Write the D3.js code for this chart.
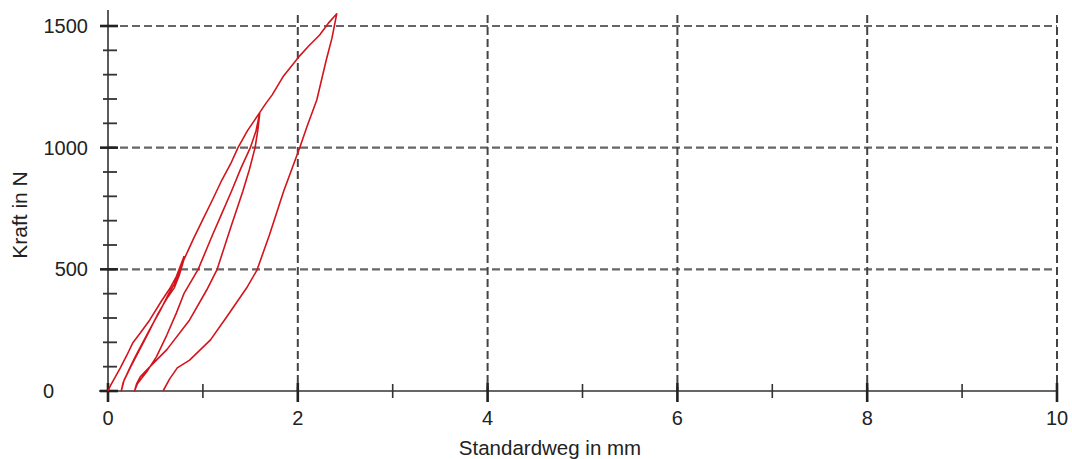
<!DOCTYPE html>
<html>
<head>
<meta charset="utf-8">
<script src="https://cdn.jsdelivr.net/npm/d3@7"></script>
<style>
  body { margin: 0; background: #fff; }
  text { font-family: "Liberation Sans", Arial, sans-serif; fill: #222; }
</style>
</head>
<body>
<script>
"use strict";
// Kraft-Weg Messung: drei Be- und Entlastungszyklen, [Weg mm, Kraft N]
var load1 = [[0,0],[0.03,25],[0.07,53],[0.13,95],[0.20,148],[0.26,197],[0.34,238],[0.44,292],[0.57,374],[0.65,420],[0.72,470],[0.80,552]];
var unload1 = [[0.80,552],[0.76,495],[0.70,440],[0.64,400],[0.55,330],[0.45,260],[0.36,195],[0.28,135],[0.23,95],[0.20,70],[0.17,45],[0.14,0]];
var load2 = [[0.14,0],[0.16,35],[0.19,60],[0.24,100],[0.32,160],[0.42,235],[0.53,320],[0.62,380],[0.70,425],[0.75,475],[0.80,540],[0.90,625],[1.00,705],[1.10,785],[1.20,867],[1.30,940],[1.37,1000],[1.47,1070],[1.60,1145]];
var unload2 = [[1.60,1145],[1.58,1075],[1.55,1000],[1.49,910],[1.42,820],[1.30,680],[1.15,500],[1.04,415],[0.86,292],[0.62,170],[0.44,99],[0.34,58],[0.30,28],[0.28,0]];
var load3 = [[0.28,0],[0.31,30],[0.35,50],[0.41,80],[0.51,140],[0.62,230],[0.72,320],[0.80,400],[0.95,500],[1.10,640],[1.20,730],[1.30,820],[1.40,915],[1.50,1000],[1.56,1070],[1.60,1145],[1.66,1180],[1.73,1217],[1.85,1295],[2.01,1373],[2.12,1420],[2.23,1463],[2.33,1515],[2.41,1550]];
var unload3 = [[2.41,1550],[2.36,1450],[2.30,1360],[2.20,1196],[2.10,1090],[2.02,1000],[1.85,820],[1.70,640],[1.57,497],[1.46,423],[1.25,304],[1.08,210],[0.86,127],[0.73,95],[0.65,50],[0.58,0]];

var xMajor = [0, 2, 4, 6, 8, 10],
    xMinor = [1, 3, 5, 7, 9],
    yMajor = [0, 500, 1000, 1500],
    yMinor = [100, 200, 300, 400, 600, 700, 800, 900, 1100, 1200, 1300, 1400];

var width = 1072, height = 459;
var svg = d3.select("body").append("svg")
    .attr("width", width)
    .attr("height", height);

var x = d3.scaleLinear().domain([0, 10]).range([108, 1057]);
var y = d3.scaleLinear().domain([0, 1500]).range([391, 26]);

// grid
svg.selectAll(".hgrid").data(yMajor.slice(1)).enter().append("line")
    .attr("x1", x(0)).attr("x2", x(10))
    .attr("y1", d => y(d)).attr("y2", d => y(d))
    .attr("stroke", "#666").attr("stroke-width", 2.2)
    .attr("stroke-dasharray", "8,4");
svg.selectAll(".vgrid").data(xMajor.slice(1)).enter().append("line")
    .attr("x1", d => x(d)).attr("x2", d => x(d))
    .attr("y1", y(1500) - 11).attr("y2", y(0))
    .attr("stroke", "#444").attr("stroke-width", 2)
    .attr("stroke-dasharray", "8,4");

// axes
var axisColor = "#333";
svg.append("line")
    .attr("x1", x(0)).attr("x2", x(0))
    .attr("y1", y(1500) - 16).attr("y2", y(0) + 9)
    .attr("stroke", axisColor).attr("stroke-width", 1.6);
svg.append("line")
    .attr("x1", x(0) - 9).attr("x2", x(10))
    .attr("y1", y(0)).attr("y2", y(0))
    .attr("stroke", axisColor).attr("stroke-width", 1.6);

svg.selectAll(".ymin").data(yMinor).enter().append("line")
    .attr("x1", x(0) - 5).attr("x2", x(0) + 9)
    .attr("y1", d => y(d)).attr("y2", d => y(d))
    .attr("stroke", axisColor).attr("stroke-width", 1.8);
svg.selectAll(".ymaj").data(yMajor).enter().append("line")
    .attr("x1", x(0) - 8).attr("x2", x(0) + 10)
    .attr("y1", d => y(d)).attr("y2", d => y(d))
    .attr("stroke", "#222").attr("stroke-width", 2.6);
svg.selectAll(".xmin").data(xMinor).enter().append("line")
    .attr("x1", d => x(d)).attr("x2", d => x(d))
    .attr("y1", y(0) - 7).attr("y2", y(0) + 7)
    .attr("stroke", axisColor).attr("stroke-width", 1.6);
svg.selectAll(".xmaj").data(xMajor).enter().append("line")
    .attr("x1", d => x(d)).attr("x2", d => x(d))
    .attr("y1", y(0) - 8).attr("y2", y(0) + 11)
    .attr("stroke", "#222").attr("stroke-width", 2.6);

// tick labels
svg.selectAll(".ylab").data(yMajor).enter().append("text")
    .attr("x", d => d === 0 ? 43 : 88)
    .attr("y", d => y(d) + 7)
    .attr("text-anchor", d => d === 0 ? "start" : "end")
    .style("font-size", "20px")
    .text(d => d);
svg.selectAll(".xlab").data(xMajor).enter().append("text")
    .attr("x", d => x(d))
    .attr("y", 425)
    .attr("text-anchor", "middle")
    .style("font-size", "20px")
    .text(d => d);

// titles
svg.append("text")
    .attr("x", 550)
    .attr("y", 455)
    .attr("text-anchor", "middle")
    .style("font-size", "20.5px")
    .text("Standardweg in mm");
svg.append("text")
    .attr("transform", "translate(27,215) rotate(-90)")
    .attr("text-anchor", "middle")
    .style("font-size", "21px")
    .text("Kraft in N");

// curve
var data = [load1, unload1, load2, unload2, load3, unload3];
var line = d3.line().x(d => x(d[0])).y(d => y(d[1]));
svg.append("path")
    .datum(d3.merge(data))
    .attr("d", line)
    .attr("fill", "none")
    .attr("stroke", "#d4141c")
    .attr("stroke-width", 1.6)
    .attr("stroke-linejoin", "round");
</script>
</body>
</html>
